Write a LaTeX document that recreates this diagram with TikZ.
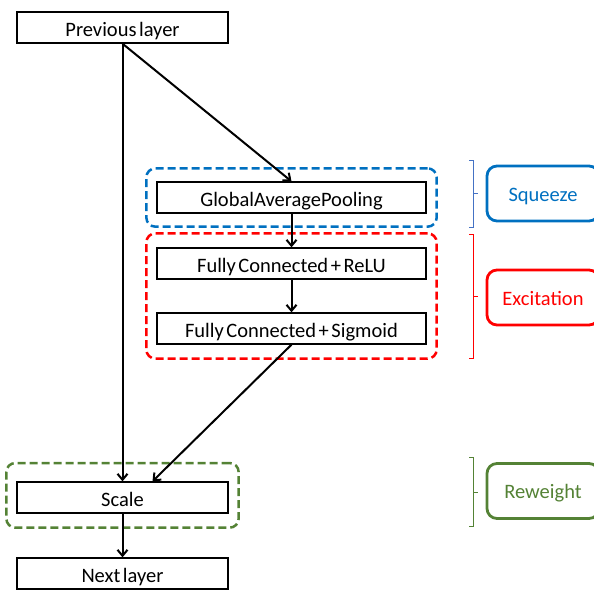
\documentclass[tikz,border=0pt]{standalone}
\usepackage{fontspec}
\setmainfont{Carlito}[WordSpace=0.55]
\usetikzlibrary{arrows.meta,fit,positioning}

\definecolor{sqblue}{HTML}{0070C0}
\definecolor{bracketblue}{HTML}{4472C4}
\definecolor{exred}{HTML}{FF0000}
\definecolor{rwgreen}{HTML}{548235}

\tikzset{
  layer/.style={draw, line width=1.3pt, minimum width=211pt, minimum height=31pt,
    inner sep=0pt, text height=18pt, text depth=0pt,
    font=\fontsize{20.5}{24}\selectfont},
  wide/.style={minimum width=269pt},
  flow/.style={-{Straight Barb[length=6pt,width=10pt,line width=2pt]}, line width=2pt},
  group/.style={draw, dash pattern=on 8pt off 4pt, line width=2.5pt,
    rounded corners=9pt, inner xsep=10pt},
  tag/.style={draw, line width=2.8pt, rounded corners=10pt, minimum width=112pt,
    minimum height=55pt, text height=15pt, text depth=0pt,
    font=\fontsize{20.5}{24}\selectfont},
  bracket/.style={line width=0.9pt}
}

\begin{document}
\begin{tikzpicture}[x=1pt,y=-1pt]
    \useasboundingbox (0,0) rectangle (594,589);
    \clip (0,0) rectangle (594,589);

    % Layers
    \node[layer] (prev) at (122.5,27.5) {Previous layer};
    \node[layer, wide] (gap) at (291.5,197.5) {GlobalAveragePooling};
    \node[layer, wide] (fcr) at (291.5,263.5) {Fully Connected + ReLU};
    \node[layer, wide] (fcs) at (291.5,328.5) {Fully Connected + Sigmoid};
    \node[layer] (scale) at (122.5,497.5) {Scale};
    \node[layer] (next) at (122.5,573.5) {Next layer};

    % Dashed groups
    \node[group, draw=sqblue, fit=(gap), inner ysep=13pt] (sqgroup) {};
    \node[group, draw=exred, fit=(fcr)(fcs), inner ysep=14pt] (exgroup) {};
    \coordinate (rwtop) at (122.5,477);
    \node[group, draw=rwgreen, fit=(scale)(rwtop), inner ysep=14pt] (rwgroup) {};

    % Flow
    \draw[flow] (prev.south) -- (scale.north);
    \draw[flow] (prev.south) -- (gap.north);
    \draw[flow] (gap) -- (fcr);
    \draw[flow] (fcr) -- (fcs);
    \draw[flow] (fcs.south) -- ([xshift=30pt]scale.north);
    \draw[flow] (scale) -- (next);

    % Brackets
    \draw[bracket, bracketblue] (469,160) -- (473,160) -- (473,227) -- (469,227);
    \draw[bracket, bracketblue] (473,193.5) -- (478,193.5);
    \draw[bracket, exred] (469,234) -- (473,234) -- (473,358) -- (469,358);
    \draw[bracket, exred] (473,296) -- (478,296);
    \draw[bracket, rwgreen] (469,457) -- (473,457) -- (473,526) -- (469,526);
    \draw[bracket, rwgreen] (473,492) -- (478,492);

    % Tags
    \node[tag, draw=sqblue, text=sqblue] (squeeze) at (543,193.5) {Squeeze};
    \node[tag, draw=exred, text=exred] (excite) at (543,297.5) {Excitation};
    \node[tag, draw=rwgreen, text=rwgreen] (reweight) at (543,491) {Reweight};

\end{tikzpicture}
\end{document}
